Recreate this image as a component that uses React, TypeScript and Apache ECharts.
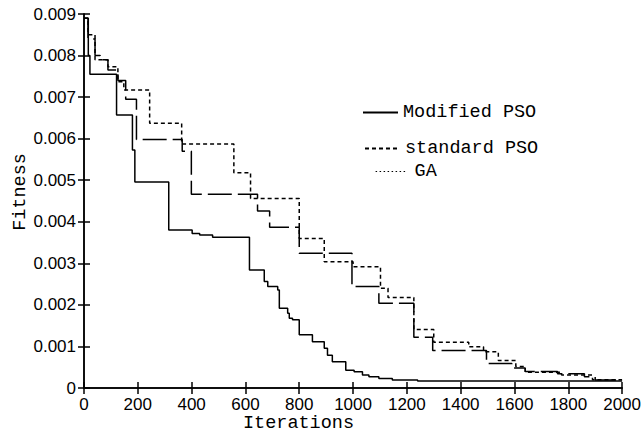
import React, { useEffect, useRef } from "react";
import * as echarts from "echarts";

// Iterations (x) and fitness (y) pairs; each pair = value taken from that iteration on
const modifiedIter = [0, 16, 22, 121, 180, 189, 315, 402, 430, 478, 615, 670, 683, 720, 726, 757, 763, 775, 800, 849, 893, 905, 923, 973, 1004, 1035, 1059, 1096, 1146, 1240, 2000];
const modifiedFit = [0.0089, 0.0080, 0.00755, 0.00657, 0.00573, 0.00496, 0.0038, 0.00372, 0.00368, 0.00363, 0.00284, 0.00256, 0.00244, 0.00236, 0.00192, 0.0018, 0.00168, 0.00164, 0.00128, 0.00111, 0.000955, 0.00079, 0.00063, 0.00043, 0.00039, 0.00031, 0.00027, 0.00023, 0.00019, 0.00017, 0.00017];

const standardIter = [0, 15, 41, 89, 126, 148, 244, 363, 557, 619, 800, 893, 1000, 1102, 1130, 1226, 1300, 1430, 1485, 1540, 1605, 1640, 1775, 1890, 2000];
const standardFit = [0.0089, 0.0085, 0.0079, 0.00773, 0.00737, 0.00717, 0.00637, 0.00587, 0.00518, 0.00456, 0.0036, 0.00304, 0.00292, 0.0024, 0.00218, 0.00141, 0.0011, 0.00099, 0.00087, 0.00066, 0.00052, 0.00038, 0.00031, 0.0002, 0.0002];

const gaIter = [0, 15, 41, 60, 89, 126, 155, 195, 365, 399, 645, 690, 800, 996, 1096, 1226, 1296, 1496, 1590, 1640, 1760, 1860, 1900, 2000];
const gaFit = [0.0089, 0.0084, 0.0080, 0.0079, 0.00765, 0.0074, 0.00695, 0.00598, 0.0057, 0.00466, 0.00426, 0.00387, 0.00324, 0.00244, 0.00204, 0.00122, 0.0009, 0.00059, 0.00048, 0.0004, 0.00034, 0.00027, 0.00019, 0.00019];

const seriesNames = ["Modified PSO", "standard PSO", "GA"];
const xTicks = { min: 0, max: 2000, interval: 200 };
const yTicks = { min: 0, max: 0.009, interval: 0.001 };

const zip = (xs: number[], ys: number[]) => xs.map((x, i) => [x, ys[i]]);

export default function App() {
  const ref = useRef<HTMLDivElement>(null);
  useEffect(() => {
    if (!ref.current) return;
    const chart = echarts.init(ref.current, null, { renderer: "svg" });
    const black = "#000";
    const mono = "'Liberation Mono', 'Courier New', monospace";
    const labelFont = { fontFamily: "'Liberation Sans', Arial, sans-serif", fontSize: 17, color: black };
    const monoFont = `18.5px ${mono}`;
    const axisCommon = {
      axisLine: { show: true, lineStyle: { color: black, width: 1.5 } },
      axisTick: { show: true, inside: true, length: 6, lineStyle: { color: black, width: 1.5 } },
      splitLine: { show: false },
    };
    const legendBase = {
      orient: "horizontal" as const,
      itemHeight: 14,
      itemStyle: { opacity: 0 },
      textStyle: { fontFamily: mono, fontSize: 18.5, color: black },
      selectedMode: false,
    };
    chart.setOption({
      animation: false,
      backgroundColor: "#fff",
      grid: { left: 84, right: 20, top: 14, bottom: 48, containLabel: false },
      xAxis: [
        {
          type: "value",
          position: "bottom",
          ...xTicks,
          ...axisCommon,
          axisLabel: { ...labelFont, lineHeight: 15, margin: 9, formatter: (v: number) => String(v) },
        },
        {
          type: "value",
          position: "top",
          ...xTicks,
          ...axisCommon,
          axisLabel: { show: false },
        },
      ],
      yAxis: [
        {
          type: "value",
          position: "left",
          ...yTicks,
          ...axisCommon,
          axisLabel: {
            ...labelFont,
            margin: 8,
            formatter: (v: number) => (Math.abs(v) < 1e-12 ? "0" : v.toFixed(3)),
          },
        },
        {
          type: "value",
          position: "right",
          ...yTicks,
          ...axisCommon,
          axisLabel: { show: false },
        },
      ],
      legend: [
        { ...legendBase, left: 357, top: 98, itemWidth: 35, data: [seriesNames[0]] },
        { ...legendBase, left: 359, top: 134, itemWidth: 35, data: [seriesNames[1]] },
        {
          ...legendBase,
          left: 370,
          top: 157,
          itemWidth: 32,
          data: [{ name: seriesNames[2], lineStyle: { type: [1.5, 2.5], width: 1.2 }, textStyle: { padding: [0, 0, 0, 2] } }],
        },
      ],
      graphic: [
        {
          type: "text",
          left: 243,
          top: 414,
          style: { text: "Iterations", font: monoFont, fill: black, lineHeight: 17 },
        },
        {
          type: "text",
          x: 20,
          y: 192,
          rotation: Math.PI / 2,
          style: { text: "Fitness", font: monoFont, fill: black, align: "center", verticalAlign: "middle" },
        },
      ],
      series: [
        {
          name: seriesNames[0],
          type: "line",
          step: "end",
          symbol: "none",
          data: zip(modifiedIter, modifiedFit),
          lineStyle: { color: black, width: 1.5, type: "solid" },
          itemStyle: { color: black },
        },
        {
          name: seriesNames[1],
          type: "line",
          step: "end",
          symbol: "none",
          data: zip(standardIter, standardFit),
          lineStyle: { color: black, width: 1.5, type: [4, 3] },
          itemStyle: { color: black },
        },
        {
          name: seriesNames[2],
          type: "line",
          step: "end",
          symbol: "none",
          data: zip(gaIter, gaFit),
          lineStyle: { color: black, width: 1.5, type: [24, 6] },
          itemStyle: { color: black },
        },
      ],
    });
    return () => chart.dispose();
  }, []);
  return (
    <div
      ref={ref}
      style={{ position: "fixed", left: 0, top: 0, width: 644, height: 436, background: "#fff" }}
    />
  );
}
